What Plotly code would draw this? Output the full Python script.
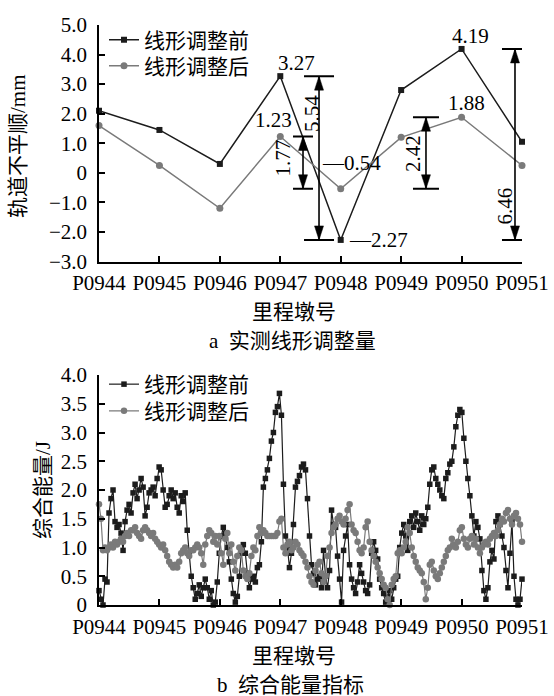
import numpy as np
import plotly.graph_objects as go

# ---------------- data ----------------
piers = ["P0944", "P0945", "P0946", "P0947", "P0948", "P0949", "P0950", "P0951"]

# measured track irregularity (mm) before / after alignment adjustment
irreg_before = [2.10, 1.45, 0.30, 3.27, -2.27, 2.80, 4.19, 1.05]
irreg_after = [1.60, 0.25, -1.20, 1.23, -0.54, 1.20, 1.88, 0.25]

# composite energy index (J) sampled evenly along the spans P0944-P0951
energy_before = [
    0.25, 0.10, 0.00, 0.45, 0.40, 1.60, 1.85, 2.00, 1.45, 1.35,
    1.40, 1.25, 0.95, 1.45, 1.65, 1.75, 1.60, 1.95, 2.10, 1.85,
    2.00, 2.20, 2.05, 1.55, 1.70, 1.95, 2.00, 2.05, 1.90, 2.20,
    2.40, 2.35, 2.00, 1.70, 1.75, 1.90, 2.00, 1.85, 1.95, 1.70,
    1.60, 1.90, 1.80, 1.95, 1.30, 0.90, 0.50, 0.30, 0.10, 0.20,
    0.35, 0.15, 0.30, 0.45, 0.30, 0.10, 0.25, 0.00, 0.05, 0.40,
    0.90, 1.20, 1.35, 1.25, 1.00, 0.75, 0.45, 0.20, 0.05, 0.15,
    0.50, 0.90, 1.05, 0.90, 0.55, 0.30, 0.45, 0.50, 0.40, 0.65,
    0.70, 1.10, 2.05, 2.20, 2.35, 2.55, 2.85, 3.00, 3.35, 3.45,
    3.68, 3.30, 2.10, 1.20, 1.00, 0.65, 0.90, 1.40, 2.05, 2.15,
    2.25, 2.40, 2.45, 2.35, 1.85, 1.20, 0.70, 0.55, 0.35, 0.45,
    0.50, 0.30, 0.95, 0.50, 0.30, 0.60, 1.65, 1.40, 1.35, 0.85,
    0.45, 0.05, 0.95, 1.20, 1.40, 0.70, 0.45, 0.30, 0.20, 0.40,
    0.70, 0.55, 0.40, 0.25, 0.20, 0.35, 0.90, 1.10, 0.95, 0.80,
    0.45, 0.30, 0.20, 0.05, 0.15, 0.25, 0.10, 0.30, 0.45, 0.50,
    1.00, 1.25, 1.40, 1.20, 0.95, 1.45, 1.55, 1.35, 1.60, 1.45,
    1.30, 1.55, 1.40, 1.50, 1.70, 2.10, 2.35, 2.40, 2.20, 2.10,
    2.00, 1.90, 1.85, 2.20, 2.30, 2.45, 2.50, 2.75, 3.10, 3.30,
    3.40, 3.35, 2.90, 2.50, 2.20, 1.90, 1.55, 1.20, 1.45, 1.35,
    1.15, 0.60, 0.25, 0.10, 0.30, 0.75, 0.95, 0.80, 1.45, 1.55,
    1.40, 1.20, 1.00, 0.60, 0.30, 0.90, 1.45, 0.50, 0.10, 0.00,
    0.10, 0.45,
]
energy_after = [
    1.75, 1.50, 0.95, 1.00, 0.95, 1.00, 1.05, 1.00, 1.10, 1.05,
    1.10, 1.15, 1.10, 1.20, 1.25, 1.20, 1.30, 1.30, 1.35, 1.25,
    1.20, 1.15, 1.30, 1.35, 1.30, 1.25, 1.20, 1.25, 1.15, 1.10,
    1.05, 1.00, 1.05, 0.95, 0.85, 0.75, 0.70, 0.65, 0.70, 0.65,
    0.75, 0.90, 0.95, 1.00, 0.90, 0.85, 0.95, 0.95, 1.00, 1.05,
    1.00, 0.90, 0.70, 1.05, 1.20, 1.30, 1.25, 1.10, 1.20, 1.05,
    1.20, 0.90, 0.70, 1.15, 1.25, 0.90, 1.05, 0.75, 0.60, 0.85,
    1.00, 0.95, 0.60, 0.50, 0.45, 0.55, 0.85, 1.00, 0.95, 1.20,
    1.35, 1.25, 1.30, 1.25, 1.20, 1.20, 1.20, 1.20, 1.20, 1.25,
    1.45, 1.50, 1.00, 0.90, 1.05, 1.10, 0.95, 1.00, 1.10, 1.05,
    0.95, 0.90, 0.85, 0.75, 0.65, 0.50, 0.40, 0.35, 0.60, 0.70,
    0.75, 0.55, 0.40, 0.50, 0.85, 1.00, 1.25, 1.35, 1.40, 1.50,
    1.55, 1.45, 1.40, 1.50, 1.65, 1.75, 1.40, 1.30, 1.25, 1.10,
    0.95, 0.90, 1.00, 1.35, 1.45, 1.10, 0.95, 0.85, 0.75, 0.65,
    0.55, 0.45, 0.35, 0.30, 0.10, 0.00, 0.35, 0.45, 0.50, 0.90,
    0.95, 0.90, 1.00, 1.10, 1.35, 1.25, 1.00, 0.85, 0.75, 0.65,
    0.60, 0.55, 0.40, 0.10, 0.30, 0.70, 0.75, 0.60, 0.50, 0.45,
    0.55, 0.65, 0.75, 0.85, 0.95, 1.00, 1.15, 1.05, 1.00, 1.10,
    1.30, 1.35, 1.15, 1.05, 1.00, 1.15, 1.20, 1.05, 1.15, 1.00,
    0.90, 1.00, 1.05, 1.10, 1.05, 1.15, 1.20, 1.25, 1.20, 1.30,
    1.40, 1.50, 1.45, 1.60, 1.65, 1.50, 1.40, 1.55, 1.60, 1.50,
    1.40, 1.10,
]

top_ticks = [-3, -2, -1, 0, 1, 2, 3, 4, 5]
top_ticktext = ["\u22123.0", "\u22122.0", "\u22121.0", "0", "1.0", "2.0", "3.0", "4.0", "5.0"]
bot_ticks = [0, 0.5, 1.0, 1.5, 2.0, 2.5, 3.0, 3.5, 4.0]
bot_ticktext = ["0", "0.5", "1.0", "1.5", "2.0", "2.5", "3.0", "3.5", "4.0"]

# ---------------- styling ----------------
W, H = 554, 696
ML, MR = 99, 32
FONT = "Liberation Serif, Noto Sans CJK SC, serif"
FS = 21
DARK = "#1c1c1c"
GREY = "#7a7a7a"

pier_idx = list(range(len(piers)))
energy_pos = np.linspace(0, len(piers) - 1, len(energy_before))

fig = go.Figure()

# top panel: measured alignment adjustment
fig.add_trace(go.Scatter(
    x=pier_idx, y=irreg_before, name="线形调整前", mode="lines+markers",
    line=dict(color=DARK, width=1.5), marker=dict(symbol="square", size=6, color=DARK),
    cliponaxis=False, xaxis="x", yaxis="y", legend="legend", showlegend=True))
fig.add_trace(go.Scatter(
    x=pier_idx, y=irreg_after, name="线形调整后", mode="lines+markers",
    line=dict(color=GREY, width=1.5), marker=dict(symbol="circle", size=7, color=GREY),
    cliponaxis=False, xaxis="x", yaxis="y", legend="legend2", showlegend=True))

# bottom panel: composite energy index
fig.add_trace(go.Scatter(
    x=energy_pos, y=energy_before, name="线形调整前", mode="lines+markers",
    line=dict(color=DARK, width=1.2), marker=dict(symbol="square", size=5.5, color=DARK),
    cliponaxis=False, xaxis="x2", yaxis="y2", legend="legend3", showlegend=True))
fig.add_trace(go.Scatter(
    x=energy_pos, y=energy_after, name="线形调整后", mode="lines+markers",
    line=dict(color=GREY, width=1.2), marker=dict(symbol="circle", size=6.5, color=GREY),
    cliponaxis=False, xaxis="x2", yaxis="y2", legend="legend4", showlegend=True))

# ---------------- dimension arrows (top panel) ----------------
px_x = (len(piers) - 1) / (W - ML - MR)   # index units per pixel
px_y = 8 / 236.5                           # mm per pixel
head_len, head_half = 14, 4.5
shapes = []


def dimension(xc, lo, hi, cap_l, cap_r):
    shapes.append(dict(type="line", xref="x", yref="y", x0=xc, x1=xc, y0=lo, y1=hi,
                       line=dict(color="black", width=1.6)))
    for yv in (lo, hi):
        shapes.append(dict(type="line", xref="x", yref="y",
                           x0=xc - cap_l * px_x, x1=xc + cap_r * px_x, y0=yv, y1=yv,
                           line=dict(color="black", width=2)))
    dx, dy = head_half * px_x, head_len * px_y
    shapes.append(dict(type="path", xref="x", yref="y",
                       path=f"M{xc},{hi} L{xc - dx},{hi - dy} L{xc + dx},{hi - dy} Z",
                       fillcolor="black", line=dict(color="black", width=0.5)))
    shapes.append(dict(type="path", xref="x", yref="y",
                       path=f"M{xc},{lo} L{xc - dx},{lo + dy} L{xc + dx},{lo + dy} Z",
                       fillcolor="black", line=dict(color="black", width=0.5)))


arr_a, arr_b, arr_c, arr_d = 3.376, 3.641, 5.411, 6.884
dimension(arr_a, irreg_after[4], irreg_after[3], 10, 10)
dimension(arr_b, irreg_before[4], irreg_before[3], 15, 15)
dimension(arr_c, irreg_after[4], irreg_after[6], 13, 13)
dimension(arr_d, irreg_before[4], irreg_before[6], 13, 7)

annotations = []


def label(text, x, y, xs=0, ys=0, angle=0, xanchor="center"):
    annotations.append(dict(text=text, x=x, y=y, xref="x", yref="y", xshift=xs, yshift=ys,
                            textangle=angle, xanchor=xanchor, yanchor="middle",
                            showarrow=False, font=dict(family=FONT, size=FS, color="black")))


label(f"{irreg_before[3]:.2f}", 3, irreg_before[3], 16, 13)
label(f"{irreg_after[3]:.2f}", 3, irreg_after[3], -7, 16)
label(f"{irreg_before[6]:.2f}", 6, irreg_before[6], 9, 13)
label(f"{irreg_after[6]:.2f}", 6, irreg_after[6], 5, 14)
label(f"\u2014{abs(irreg_after[4]):.2f}", arr_b, irreg_after[4], 1, 26, xanchor="left")
label(f"\u2014{abs(irreg_before[4]):.2f}", 4, irreg_before[4], 6, 0, xanchor="left")
label(f"{irreg_after[3] - irreg_after[4]:.2f}", arr_a, (irreg_after[3] + irreg_after[4]) / 2, -20, 4, -90)
label(f"{irreg_before[3] - irreg_before[4]:.2f}", arr_b, (irreg_before[3] + irreg_before[4]) / 2, -7, 44, -90)
label(f"{irreg_after[6] - irreg_after[4]:.2f}", arr_c, (irreg_after[6] + irreg_after[4]) / 2, -13, 0, -90)
label(f"{irreg_before[6] - irreg_before[4]:.2f}", arr_d, (irreg_before[6] + irreg_before[4]) / 2, -10, -61, -90)


# ---------------- titles and captions ----------------
def paper_text(text, px, py, angle=0):
    annotations.append(dict(text=text, x=(px - ML) / (W - ML - MR), y=1 - py / H,
                            xref="paper", yref="paper", textangle=angle,
                            xanchor="center", yanchor="middle", showarrow=False,
                            font=dict(family=FONT, size=FS, color="black")))


paper_text("轨道不平顺/mm", 18, 146, -90)
paper_text("综合能量/J", 43, 490, -90)
paper_text("里程墩号", 294, 312)
paper_text("a\u2002实测线形调整量", 292, 341)
paper_text("里程墩号", 294, 656)
paper_text("b\u2002综合能量指标", 290, 685)

# ---------------- axes ----------------
axis_common = dict(showline=True, linecolor="black", linewidth=1.5, ticks="inside",
                   ticklen=6, tickwidth=1.5, tickcolor="black", showgrid=False,
                   zeroline=False, tickfont=dict(family=FONT, size=FS, color="black"),
                   automargin=False)

top_dom = [1 - 261.5 / H, 1 - 25 / H]
bot_dom = [1 - 605 / H, 1 - 375 / H]


def legend_box(center_py):
    # one legend per entry so each row sits at its own height
    return dict(visible=True, xref="container", yref="container", x=104 / W,
                y=1 - (center_py - 20) / H, xanchor="left", yanchor="top",
                bgcolor="rgba(0,0,0,0)", font=dict(family=FONT, size=FS, color="black"),
                itemwidth=30)


fig.update_layout(
    width=W, height=H,
    showlegend=True,
    margin=dict(l=ML, r=MR, t=0, b=0, autoexpand=False),
    paper_bgcolor="white", plot_bgcolor="white",
    font=dict(family=FONT, size=FS, color="black"),
    xaxis=dict(axis_common, range=[0, 7], tickvals=pier_idx, ticktext=piers,
               anchor="y", domain=[0, 1], ticklabelstandoff=2, tickangle=0),
    yaxis=dict(axis_common, range=[-3, 5], tickvals=top_ticks, ticktext=top_ticktext,
               anchor="x", domain=top_dom, ticklabelstandoff=6),
    xaxis2=dict(axis_common, range=[0, 7], tickvals=pier_idx, ticktext=piers,
                anchor="y2", domain=[0, 1], ticklabelstandoff=2, tickangle=0),
    yaxis2=dict(axis_common, range=[0, 4], tickvals=bot_ticks, ticktext=bot_ticktext,
                anchor="x2", domain=bot_dom, ticklabelstandoff=6),
    legend=legend_box(39.5),
    legend2=legend_box(65.7),
    legend3=legend_box(384),
    legend4=legend_box(410.7),
    shapes=shapes,
    annotations=annotations,
)

fig.write_html("out.html")
